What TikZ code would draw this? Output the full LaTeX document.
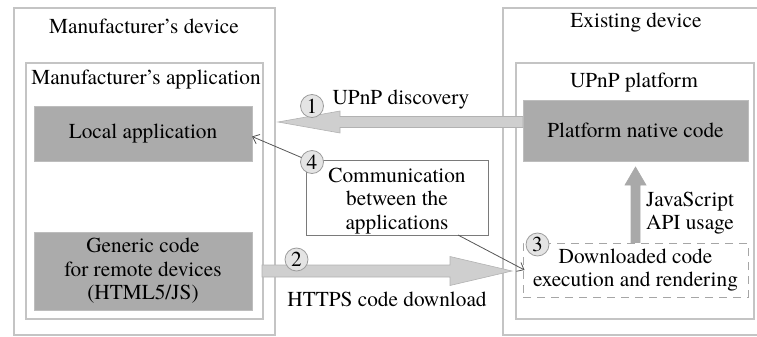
\documentclass[tikz,border=0pt]{standalone}
\usepackage{fontspec}
\setmainfont{texgyretermes-regular.otf}
\usetikzlibrary{arrows.meta,calc}

\definecolor{framegray}{HTML}{C4C4C4}
\definecolor{boxfill}{HTML}{ABABAB}
\definecolor{boxedge}{HTML}{BDBDBD}
\definecolor{arrowfill}{HTML}{CFCFCF}
\definecolor{arrowedge}{HTML}{B2B2B2}
\definecolor{apifill}{HTML}{A9A9A9}
\definecolor{discfill}{HTML}{E4E4E4}
\definecolor{discedge}{HTML}{9C9C9C}
\definecolor{pointergray}{HTML}{555555}
\definecolor{commedge}{HTML}{7A7A7A}
\definecolor{dashgray}{HTML}{A6A6A6}

\tikzset{
  netarrow/.style={fill=arrowfill, draw=arrowedge, line width=0.6pt},
  apiarrow/.style={fill=apifill, draw=apifill, line width=0.6pt}
}

% broad block arrow: [style] start, tip, shaft half width, head length, head half width
\newcommand\fatarrow[6][netarrow]{%
  \coordinate (fa-h) at ($(#3)!#5!(#2)$);
  \filldraw[#1]
    ($(#2)!#4!90:(#3)$) -- ($(fa-h)!#4!-90:(#2)$) -- ($(fa-h)!#6!-90:(#2)$)
    -- (#3) -- ($(fa-h)!#6!90:(#2)$) -- ($(fa-h)!#4!90:(#2)$)
    -- ($(#2)!#4!-90:(#3)$) -- cycle;
}

\begin{document}
\begin{tikzpicture}[x=1pt,y=-1pt,
  every node/.style={font=\fontsize{21.3}{23.5}\selectfont, inner sep=0pt, outer sep=0pt},
  frame/.style={draw=framegray, line width=1.1pt},
  graybox/.style={fill=boxfill, draw=boxedge, line width=1pt},
  dashbox/.style={draw=dashgray, line width=1pt, dash pattern=on 8pt off 6pt},
  disc/.style={circle, fill=discfill, draw=discedge, line width=0.8pt, minimum size=23pt},
  pointer/.style={draw=pointergray, line width=0.8pt, -{Straight Barb[length=6pt,width=10pt]}}]
\useasboundingbox (0,0) rectangle (757,337);
\clip (0,0) rectangle (757,337);

% device frames
\node[frame, minimum width=261pt, minimum height=327pt] (mdev) at (144.5,171.5) {};
\node[frame, minimum width=237pt, minimum height=256pt] (mapp) at (144.5,191) {};
\node[frame, minimum width=267pt, minimum height=327pt] (edev) at (636.5,171.5) {};
\node[frame, minimum width=238pt, minimum height=256pt] (upnp) at (635,191) {};

% frame titles
\node[anchor=base] (tmdev) at (144,34) {Manufacturer’s device};
\node[anchor=base] (tmapp) at (146,84) {Manufacturer’s application};
\node[anchor=base] (tedev) at (636,28) {Existing device};
\node[anchor=base] (tupnp) at (634,88) {UPnP platform};

% software blocks
\node[graybox, minimum width=218pt, minimum height=55pt] (local) at (143,133.5) {Local application};
\node[graybox, minimum width=218pt, minimum height=78pt, align=center] (gen) at (143,271)
  {Generic code\\for remote devices\\(HTML5/JS)};
\node[graybox, minimum width=225pt, minimum height=61pt] (pnc) at (635.5,130.5) {Platform native code};
\node[dashbox, minimum width=225pt, minimum height=54pt, align=center] (dl) at (635.5,270)
  {Downloaded code\\execution and rendering};

% block arrows
\coordinate (d1s) at ([yshift=8.5pt]pnc.west);
\coordinate (d1t) at (278,122);
\fatarrow{d1s}{d1t}{5.5pt}{62pt}{11pt}
\coordinate (d2s) at ([xshift=10pt]gen.east);
\coordinate (d2t) at (512,271);
\fatarrow{d2s}{d2t}{6pt}{62pt}{14.5pt}
\coordinate (d3s) at ([yshift=0.5pt]dl.north);
\coordinate (d3t) at ([yshift=-6pt]pnc.south);
\fatarrow[apiarrow]{d3s}{d3t}{4.5pt}{18pt}{10.5pt}

% arrow labels
\node[anchor=base] (l1) at (401,104) {UPnP discovery};
\node[anchor=base] (l2) at (387,306) {HTTPS code download};
\node[align=center] (l3) at (690,213) {JavaScript\\API usage};

% communication note
\node[draw=commedge, fill=white, line width=0.7pt, minimum width=182pt, minimum height=75pt] (comm) at (397,197.5) {};
\node[align=center] (commtxt) at (397,201) {Communication\\between the\\applications};

% step markers
\node[disc] (c1) at (312,106) {1};
\node[disc] (c2) at (296.5,259.5) {2};
\node[disc] (c3) at (537.5,244.5) {3};
\node[disc] (c4) at (312,162) {4};

% communication pointers
\draw[pointer] (c4) -- ([yshift=-3pt]local.east);
\draw[pointer] ([xshift=-30pt]comm.south east) -- ([xshift=1.5pt]dl.west);
\end{tikzpicture}
\end{document}
